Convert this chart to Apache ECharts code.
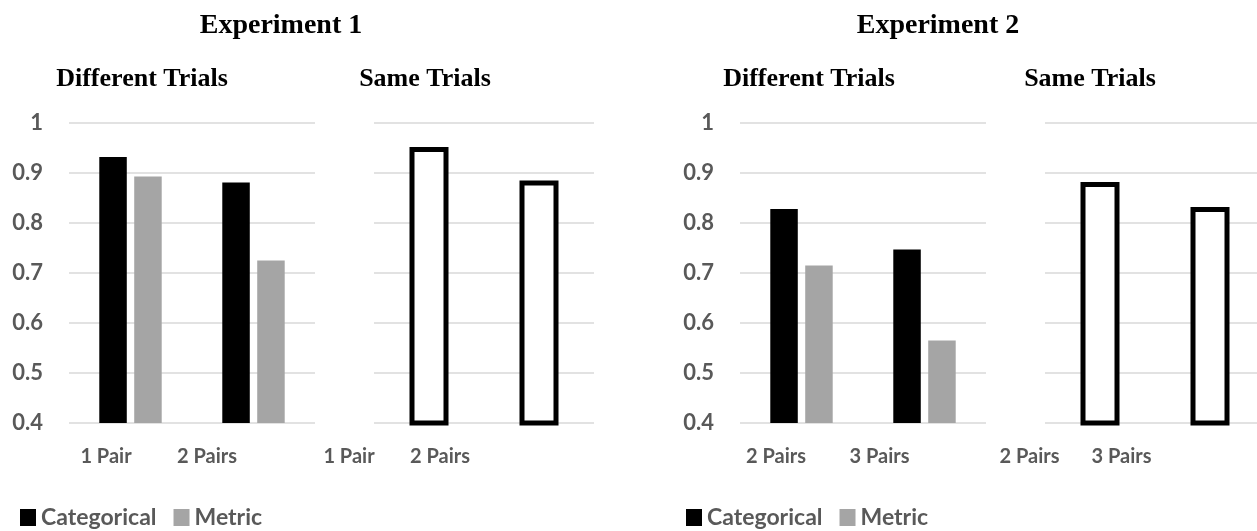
<!DOCTYPE html>
<html>
<head>
<meta charset="utf-8">
<script src="https://cdn.jsdelivr.net/npm/echarts@6/dist/echarts.min.js"></script>
<style>
html,body{margin:0;padding:0;background:#fff;}
#chart{width:1257px;height:531px;}
</style>
</head>
<body>
<div id="chart"></div>
<script>
// ---- data ----
const exp1Categories = ['1 Pair', '2 Pairs'];
const exp2Categories = ['2 Pairs', '3 Pairs'];
const exp1DiffCategorical = [0.932, 0.881];
const exp1DiffMetric = [0.893, 0.725];
const exp1Same = [0.952, 0.885];
const exp2DiffCategorical = [0.828, 0.747];
const exp2DiffMetric = [0.715, 0.565];
const exp2Same = [0.882, 0.832];
const yMin = 0.4, yMax = 1, yStep = 0.1;
const legendNames = ['Categorical', 'Metric'];
const titleTexts = ['Experiment 1', 'Experiment 2'];
const panelTitles = ['Different Trials', 'Same Trials', 'Different Trials', 'Same Trials'];

// ---- style ----
const labelColor = '#595959';
const gridColor = '#d9d9d9';
const sansFont = 'Lato';
const serifFont = 'Liberation Serif';

const grids = [
  {left: 69, top: 123, width: 246, height: 300, outerBoundsMode: 'none', containLabel: false},
  {left: 374, top: 123, width: 220, height: 300, outerBoundsMode: 'none', containLabel: false},
  {left: 740, top: 123, width: 246, height: 300, outerBoundsMode: 'none', containLabel: false},
  {left: 1045, top: 123, width: 220, height: 300, outerBoundsMode: 'none', containLabel: false}
];
// per-label shift (right padding) to place category labels as in the reference
const labelPads = [[49, 93], [160, 198], [51, 90], [141, 177]];
const cats = [exp1Categories, exp1Categories, exp2Categories, exp2Categories];

const xAxes = grids.map((g, i) => ({
  type: 'category', gridIndex: i, data: cats[i],
  axisLine: {show: false}, axisTick: {show: false},
  axisLabel: {
    margin: 24, interval: 0, hideOverlap: false,
    formatter: (v, idx) => '{p' + idx + '|' + v + '}',
    rich: {
      p0: {fontFamily: sansFont, fontWeight: 'bold', fontSize: 20, color: labelColor, lineHeight: 20, padding: [0, labelPads[i][0], 0, 0]},
      p1: {fontFamily: sansFont, fontWeight: 'bold', fontSize: 20, color: labelColor, lineHeight: 20, padding: [0, labelPads[i][1], 0, 0]}
    }
  }
}));
const yAxes = grids.map((g, i) => ({
  type: 'value', gridIndex: i, min: yMin, max: yMax, interval: yStep,
  axisLine: {show: false}, axisTick: {show: false},
  splitLine: {show: true, lineStyle: {color: gridColor, width: 1.5}},
  axisLabel: {show: i === 0 || i === 2, margin: 26, fontFamily: sansFont, fontWeight: 'bold', fontSize: 22, color: labelColor}
}));

function diffBars(name, data, color, idx) {
  return {type: 'bar', name: name, data: data, xAxisIndex: idx, yAxisIndex: idx,
    barWidth: 27.5, barGap: '27%', itemStyle: {color: color}, silent: true};
}
function sameBars(data, idx) {
  return {type: 'bar', name: 'Same', data: data, xAxisIndex: idx, yAxisIndex: idx,
    barWidth: 39, itemStyle: {color: '#ffffff', borderColor: '#000000', borderWidth: 5}, silent: true};
}

const titlePos = [
  {text: titleTexts[0], left: 281, top: 12, size: 28},
  {text: titleTexts[1], left: 938, top: 12, size: 28},
  {text: panelTitles[0], left: 142, top: 66, size: 26},
  {text: panelTitles[1], left: 425, top: 66, size: 26},
  {text: panelTitles[2], left: 809, top: 66, size: 26},
  {text: panelTitles[3], left: 1090, top: 66, size: 26}
];

const option = {
  animation: false,
  backgroundColor: '#ffffff',
  title: titlePos.map(t => ({
    text: t.text, left: t.left, top: t.top, textAlign: 'center', padding: 0,
    textStyle: {fontFamily: serifFont, fontWeight: 'bold', fontSize: t.size, color: '#000000'}
  })),
  legend: [
    {data: legendNames, left: 20, top: 506, itemWidth: 16, itemHeight: 17, itemGap: 17, icon: 'rect', padding: 0,
      textStyle: {fontFamily: sansFont, fontWeight: 'bold', fontSize: 23, color: labelColor}},
    {data: legendNames, left: 686, top: 506, itemWidth: 16, itemHeight: 17, itemGap: 17, icon: 'rect', padding: 0,
      textStyle: {fontFamily: sansFont, fontWeight: 'bold', fontSize: 23, color: labelColor}}
  ],
  grid: grids,
  xAxis: xAxes,
  yAxis: yAxes,
  series: [
    diffBars(legendNames[0], exp1DiffCategorical, '#000000', 0),
    diffBars(legendNames[1], exp1DiffMetric, '#a5a5a5', 0),
    sameBars(exp1Same, 1),
    diffBars(legendNames[0], exp2DiffCategorical, '#000000', 2),
    diffBars(legendNames[1], exp2DiffMetric, '#a5a5a5', 2),
    sameBars(exp2Same, 3)
  ]
};
const chart = echarts.init(document.getElementById('chart'), null, {renderer: 'canvas'});
chart.setOption(option);
</script>
</body>
</html>
